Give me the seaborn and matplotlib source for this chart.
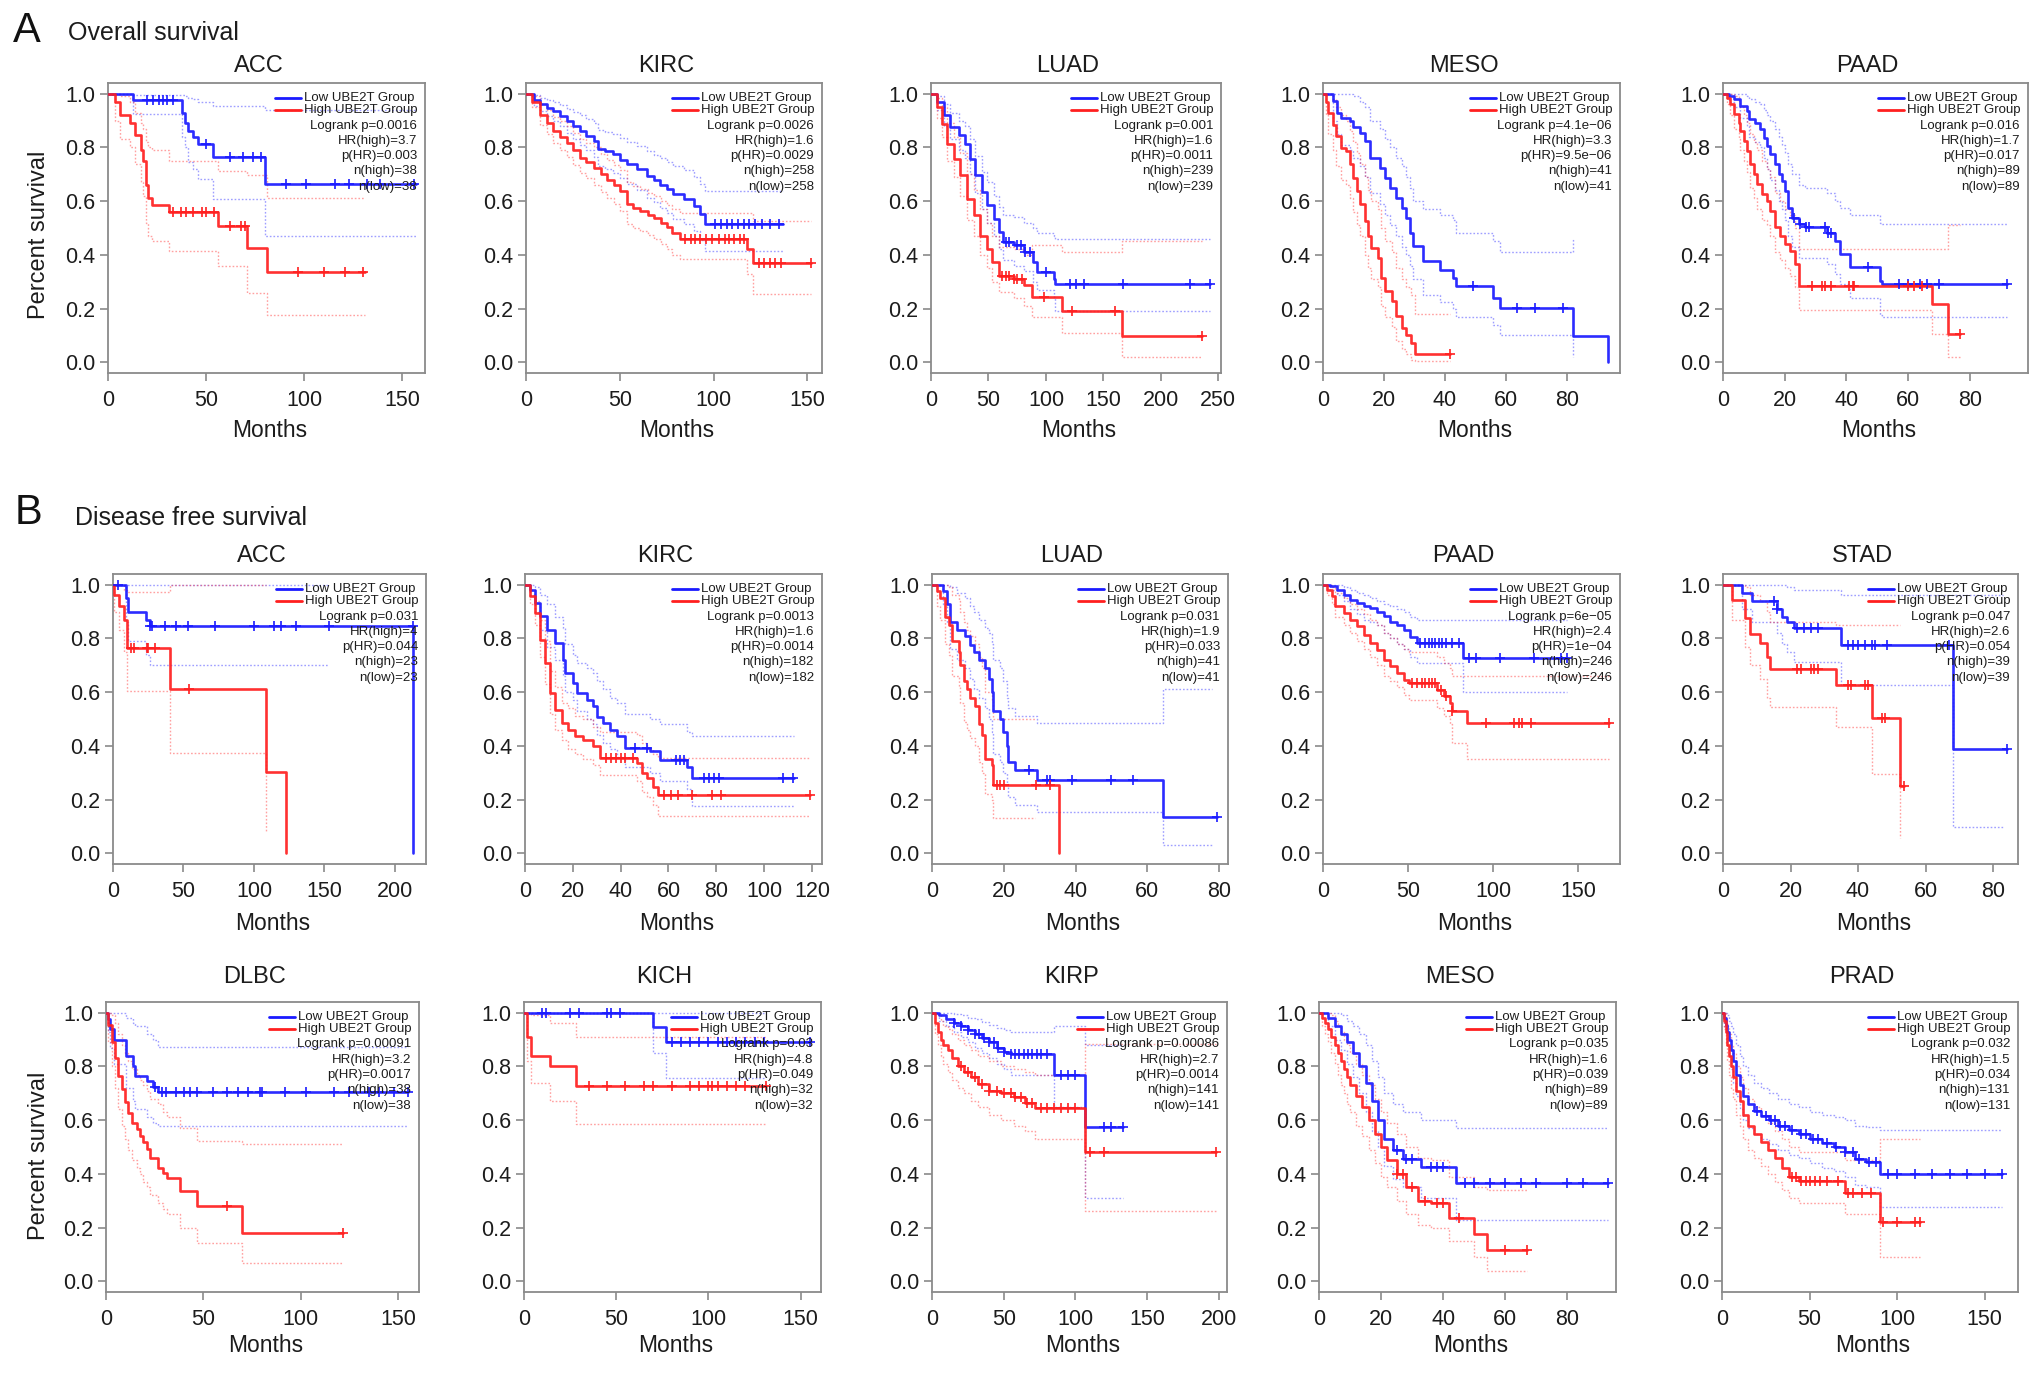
import numpy as np
import pandas as pd
import matplotlib
matplotlib.use("Agg")
import matplotlib.pyplot as plt
import seaborn as sns

M = "\u2212"

# ------------------------------------------------------------------ data
# A: Overall survival
OS_ACC_LOW_T = [0, 12.8, 37.5, 39.5, 41, 43.5, 46, 53.7, 80]
OS_ACC_LOW_S = [1, 0.975, 0.93, 0.89, 0.86, 0.84, 0.814, 0.764, 0.665]
OS_ACC_LOW_HI = [1, 0.995, 0.995, 0.99, 0.985, 0.98, 0.97, 0.956, 0.938]
OS_ACC_LOW_LO = [1, 0.925, 0.84, 0.8, 0.745, 0.72, 0.683, 0.609, 0.472]
OS_ACC_LOW_CENS = [20, 23, 26, 28, 30, 33, 50, 62, 69, 74, 78, 91, 101, 116, 123, 132, 139, 156]
OS_ACC_HIGH_T = [0, 3.4, 6, 11, 13.6, 17, 18, 19.6, 20.5, 22.5, 31, 56, 70.7, 81]
OS_ACC_HIGH_S = [1, 0.97, 0.919, 0.89, 0.845, 0.79, 0.75, 0.66, 0.61, 0.584, 0.559, 0.506, 0.425, 0.338]
OS_ACC_HIGH_HI = [1, 1, 0.99, 0.97, 0.93, 0.89, 0.87, 0.82, 0.8, 0.79, 0.75, 0.714, 0.696, 0.61]
OS_ACC_HIGH_LO = [1, 0.9, 0.83, 0.8, 0.74, 0.67, 0.62, 0.52, 0.47, 0.453, 0.416, 0.36, 0.258, 0.176]
OS_ACC_HIGH_CENS = [33, 37, 40, 43.5, 48, 50, 54, 62, 68, 70, 97, 110, 121, 130]
OS_ACC_END = [157, 131]
OS_ACC_STATS = ["Logrank p=0.0016", "HR(high)=3.7", "p(HR)=0.003", "n(high)=38", "n(low)=38"]

OS_KIRC_LOW_T = [0, 4, 7.5, 11, 14.6, 18, 21.7, 25, 28.8, 32, 36, 38.6, 42, 46.6, 50, 53.7, 59, 64.4, 68, 71.5, 75, 78.6, 84, 89.3, 92.9, 95.5]
OS_KIRC_LOW_S = [1, 0.975, 0.96, 0.948, 0.936, 0.918, 0.898, 0.88, 0.861, 0.843, 0.824, 0.793, 0.785, 0.774, 0.755, 0.737, 0.718, 0.693, 0.678, 0.662, 0.645, 0.626, 0.607, 0.582, 0.551, 0.514]
OS_KIRC_LOW_HI = [1, 0.995, 0.985, 0.977, 0.97, 0.958, 0.945, 0.932, 0.92, 0.905, 0.89, 0.865, 0.858, 0.85, 0.835, 0.82, 0.805, 0.785, 0.772, 0.76, 0.745, 0.73, 0.715, 0.69, 0.665, 0.638]
OS_KIRC_LOW_LO = [1, 0.955, 0.935, 0.918, 0.9, 0.88, 0.855, 0.83, 0.81, 0.79, 0.765, 0.73, 0.72, 0.705, 0.685, 0.665, 0.64, 0.61, 0.595, 0.575, 0.555, 0.535, 0.515, 0.49, 0.455, 0.415]
OS_KIRC_LOW_CENS = [101, 104, 107, 110, 113, 116, 119, 122, 126, 130, 135]
OS_KIRC_HIGH_T = [0, 3, 7.5, 11, 14.6, 18, 21.7, 25, 28.8, 32, 36, 40, 43, 47, 50, 53.7, 57, 61, 65, 68, 72, 75, 78, 82.2, 118, 121]
OS_KIRC_HIGH_S = [1, 0.97, 0.92, 0.89, 0.861, 0.84, 0.818, 0.79, 0.762, 0.745, 0.725, 0.7, 0.68, 0.66, 0.638, 0.589, 0.575, 0.564, 0.55, 0.539, 0.52, 0.502, 0.48, 0.458, 0.42, 0.369]
OS_KIRC_HIGH_HI = [1, 0.99, 0.96, 0.94, 0.915, 0.9, 0.88, 0.855, 0.83, 0.815, 0.8, 0.775, 0.755, 0.735, 0.715, 0.67, 0.655, 0.645, 0.63, 0.62, 0.6, 0.585, 0.57, 0.557, 0.557, 0.527]
OS_KIRC_HIGH_LO = [1, 0.95, 0.885, 0.85, 0.815, 0.79, 0.765, 0.735, 0.705, 0.685, 0.66, 0.635, 0.61, 0.59, 0.565, 0.515, 0.5, 0.49, 0.475, 0.46, 0.44, 0.42, 0.4, 0.384, 0.33, 0.254]
OS_KIRC_HIGH_CENS = [85, 88, 90, 93, 96, 99, 103, 106, 108, 111, 114, 116, 124, 127, 130, 133, 136, 152]
OS_KIRC_END = [137, 152]
OS_KIRC_STATS = ["Logrank p=0.0026", "HR(high)=1.6", "p(HR)=0.0029", "n(high)=258", "n(low)=258"]

OS_LUAD_LOW_T = [0, 5.2, 11, 16.8, 24, 30, 34, 38.5, 44.3, 48.7, 54.5, 58.8, 63, 71.8, 80.5, 89, 92, 106.6, 108]
OS_LUAD_LOW_S = [1, 0.969, 0.919, 0.876, 0.845, 0.814, 0.758, 0.696, 0.634, 0.584, 0.534, 0.484, 0.447, 0.435, 0.41, 0.373, 0.335, 0.311, 0.292]
OS_LUAD_LOW_HI = [1, 0.99, 0.96, 0.93, 0.9, 0.88, 0.83, 0.77, 0.71, 0.67, 0.62, 0.58, 0.55, 0.54, 0.52, 0.5, 0.48, 0.47, 0.46]
OS_LUAD_LOW_LO = [1, 0.94, 0.88, 0.83, 0.79, 0.76, 0.7, 0.63, 0.57, 0.52, 0.47, 0.42, 0.38, 0.36, 0.34, 0.3, 0.27, 0.24, 0.19]
OS_LUAD_LOW_CENS = [65, 68, 75, 78, 82, 86, 100, 121, 126, 132.7, 167, 225, 243]
OS_LUAD_HIGH_T = [0, 5.2, 9.6, 14, 19.7, 25.5, 31.3, 37, 42.9, 48.7, 53, 58.8, 71.8, 80.5, 87.8, 114, 166]
OS_LUAD_HIGH_S = [1, 0.95, 0.888, 0.814, 0.758, 0.696, 0.609, 0.547, 0.472, 0.422, 0.373, 0.323, 0.31, 0.286, 0.242, 0.19, 0.099]
OS_LUAD_HIGH_HI = [1, 0.985, 0.95, 0.89, 0.84, 0.78, 0.7, 0.64, 0.57, 0.52, 0.47, 0.43, 0.42, 0.4, 0.435, 0.41, 0.453]
OS_LUAD_HIGH_LO = [1, 0.91, 0.84, 0.75, 0.69, 0.62, 0.53, 0.47, 0.4, 0.35, 0.3, 0.26, 0.24, 0.21, 0.17, 0.11, 0.02]
OS_LUAD_HIGH_CENS = [62, 65, 68, 72, 75, 79, 98, 123, 160, 236]
OS_LUAD_END = [243, 236]
OS_LUAD_STATS = ["Logrank p=0.001", "HR(high)=1.6", "p(HR)=0.0011", "n(high)=239", "n(low)=239"]

OS_MESO_LOW_T = [0, 3.3, 4.6, 6, 8.8, 9.9, 12, 13.7, 15.3, 18.6, 20.3, 21.9, 24.1, 25.8, 27.4, 28.5, 29.6, 32.9, 38.4, 42.7, 43.8, 55.9, 58, 82.2, 93.7]
OS_MESO_LOW_S = [1, 0.973, 0.93, 0.91, 0.9, 0.878, 0.855, 0.825, 0.76, 0.724, 0.687, 0.65, 0.612, 0.575, 0.538, 0.482, 0.432, 0.376, 0.345, 0.314, 0.283, 0.24, 0.202, 0.097, 0.0]
OS_MESO_LOW_HI = [1, 1, 1, 1, 1, 0.99, 0.97, 0.95, 0.9, 0.87, 0.83, 0.8, 0.76, 0.73, 0.69, 0.65, 0.6, 0.57, 0.55, 0.53, 0.48, 0.45, 0.41, 0.46, 0.46]
OS_MESO_LOW_LO = [1, 0.9, 0.85, 0.81, 0.79, 0.76, 0.73, 0.69, 0.63, 0.59, 0.55, 0.51, 0.47, 0.43, 0.4, 0.36, 0.31, 0.25, 0.225, 0.2, 0.17, 0.14, 0.1, 0.02, 0.02]
OS_MESO_LOW_CENS = [49.3, 63.6, 69.6, 78.9]
OS_MESO_HIGH_T = [0, 0.9, 1.6, 3.3, 4.4, 6, 7.7, 8.8, 9.9, 11, 12, 13.7, 14.8, 15.9, 18, 19.2, 20.3, 22.5, 24.1, 25.8, 27.4, 29, 30.1]
OS_MESO_HIGH_S = [1, 0.97, 0.93, 0.885, 0.842, 0.799, 0.786, 0.737, 0.687, 0.637, 0.588, 0.525, 0.47, 0.426, 0.389, 0.314, 0.265, 0.227, 0.171, 0.128, 0.103, 0.072, 0.029]
OS_MESO_HIGH_HI = [1, 1, 1, 0.98, 0.95, 0.92, 0.9, 0.86, 0.82, 0.78, 0.74, 0.69, 0.64, 0.6, 0.57, 0.5, 0.45, 0.41, 0.35, 0.31, 0.28, 0.25, 0.18]
OS_MESO_HIGH_LO = [1, 0.92, 0.85, 0.79, 0.73, 0.68, 0.66, 0.61, 0.56, 0.51, 0.47, 0.4, 0.35, 0.31, 0.28, 0.21, 0.17, 0.13, 0.08, 0.05, 0.03, 0.01, 0.005]
OS_MESO_HIGH_CENS = [41.6]
OS_MESO_END = [93.7, 41.6]
OS_MESO_STATS = ["Logrank p=4.1e" + M + "06", "HR(high)=3.3", "p(HR)=9.5e" + M + "06", "n(high)=41", "n(low)=41"]

OS_PAAD_LOW_T = [0, 1.8, 3.5, 5.6, 7.8, 8.3, 10.5, 12, 13.2, 14.2, 15.3, 16.9, 18, 19.1, 20.2, 21.2, 22.3, 24.5, 26.6, 33.6, 36.3, 38, 41.2, 50.9, 51.4]
OS_PAAD_LOW_S = [1, 0.991, 0.979, 0.954, 0.935, 0.905, 0.892, 0.867, 0.836, 0.805, 0.774, 0.737, 0.7, 0.675, 0.638, 0.576, 0.539, 0.514, 0.502, 0.483, 0.452, 0.403, 0.353, 0.304, 0.291]
OS_PAAD_LOW_HI = [1, 1, 1, 1, 0.99, 0.98, 0.97, 0.96, 0.94, 0.92, 0.9, 0.87, 0.84, 0.81, 0.78, 0.74, 0.7, 0.66, 0.65, 0.63, 0.6, 0.576, 0.55, 0.52, 0.515]
OS_PAAD_LOW_LO = [1, 0.97, 0.95, 0.91, 0.88, 0.84, 0.82, 0.8, 0.76, 0.72, 0.68, 0.64, 0.6, 0.57, 0.53, 0.47, 0.43, 0.39, 0.39, 0.365, 0.33, 0.29, 0.24, 0.175, 0.167]
OS_PAAD_LOW_CENS = [23, 25, 27, 28, 33, 34, 35, 47.1, 57, 60, 63.8, 66, 70, 92]
OS_PAAD_HIGH_T = [0, 1.3, 2.4, 3.5, 5.1, 5.6, 6.7, 7.8, 8.8, 9.9, 11, 12.6, 14.2, 15.3, 16.9, 18.5, 20.2, 21.8, 23.4, 24.5, 67.8, 73]
OS_PAAD_HIGH_S = [1, 0.985, 0.96, 0.923, 0.892, 0.861, 0.824, 0.787, 0.737, 0.7, 0.663, 0.625, 0.6, 0.564, 0.502, 0.471, 0.44, 0.415, 0.366, 0.285, 0.217, 0.105]
OS_PAAD_HIGH_HI = [1, 1, 1, 0.99, 0.97, 0.95, 0.92, 0.89, 0.85, 0.82, 0.79, 0.75, 0.72, 0.69, 0.63, 0.6, 0.57, 0.55, 0.5, 0.42, 0.42, 0.51]
OS_PAAD_HIGH_LO = [1, 0.96, 0.92, 0.87, 0.83, 0.79, 0.75, 0.71, 0.65, 0.61, 0.57, 0.53, 0.51, 0.47, 0.41, 0.38, 0.35, 0.32, 0.28, 0.195, 0.105, 0.02]
OS_PAAD_HIGH_CENS = [29, 32, 33, 35, 41, 42, 42.5, 60, 62, 64.5, 77]
OS_PAAD_END = [92, 77]
OS_PAAD_STATS = ["Logrank p=0.016", "HR(high)=1.7", "p(HR)=0.017", "n(high)=89", "n(low)=89"]

# B: Disease free survival
DFS_ACC_LOW_T = [0, 9.5, 10.7, 23.7, 26, 213]
DFS_ACC_LOW_S = [1, 0.95, 0.9, 0.87, 0.845, 0.0]
DFS_ACC_LOW_HI = [1, 1, 1, 1, 1, 1]
DFS_ACC_LOW_LO = [1, 0.86, 0.79, 0.74, 0.7, 0.7]
DFS_ACC_LOW_CENS = [3.6, 26.5, 28, 37, 45, 53, 72, 100, 114, 119, 130, 153, 212.5]
DFS_ACC_HIGH_T = [0, 1, 4, 8, 10, 40.5, 108.5, 123]
DFS_ACC_HIGH_S = [1, 0.963, 0.919, 0.87, 0.764, 0.611, 0.304, 0.0]
DFS_ACC_HIGH_HI = [1, 1, 1, 0.98, 0.973, 1, 1, 1]
DFS_ACC_HIGH_LO = [1, 0.9, 0.83, 0.75, 0.605, 0.373, 0.08, 0.08]
DFS_ACC_HIGH_CENS = [13, 15, 24, 25, 30, 54]
DFS_ACC_END = [213, 123]
DFS_ACC_STATS = ["Logrank p=0.031", "HR(high)=4", "p(HR)=0.044", "n(high)=23", "n(low)=23"]

DFS_KIRC_LOW_T = [0, 2.1, 4.2, 6.3, 9.1, 12.6, 16, 16.7, 20.2, 21.6, 25.8, 28.6, 30, 32.8, 35.6, 38.4, 41.9, 52.3, 56.5, 67.7, 69.8]
DFS_KIRC_LOW_S = [1, 0.98, 0.932, 0.882, 0.832, 0.783, 0.72, 0.671, 0.634, 0.596, 0.571, 0.547, 0.509, 0.484, 0.46, 0.435, 0.391, 0.379, 0.348, 0.323, 0.28]
DFS_KIRC_LOW_HI = [1, 1, 0.99, 0.96, 0.93, 0.88, 0.84, 0.78, 0.74, 0.71, 0.69, 0.67, 0.64, 0.61, 0.58, 0.56, 0.52, 0.5, 0.48, 0.45, 0.435]
DFS_KIRC_LOW_LO = [1, 0.96, 0.9, 0.83, 0.77, 0.72, 0.66, 0.6, 0.57, 0.53, 0.5, 0.48, 0.44, 0.41, 0.39, 0.36, 0.32, 0.3, 0.27, 0.24, 0.176]
DFS_KIRC_LOW_CENS = [46, 51, 63, 65, 66.5, 75, 77, 79, 81, 108, 112]
DFS_KIRC_HIGH_T = [0, 2.1, 4.2, 6.3, 8.4, 10.5, 12.6, 15.4, 18.1, 20.9, 24.4, 28.6, 31.4, 46.8, 49, 51, 53.7, 55.8]
DFS_KIRC_HIGH_S = [1, 0.957, 0.894, 0.795, 0.708, 0.596, 0.534, 0.484, 0.46, 0.435, 0.422, 0.398, 0.355, 0.335, 0.3, 0.28, 0.248, 0.217]
DFS_KIRC_HIGH_HI = [1, 0.98, 0.94, 0.87, 0.79, 0.68, 0.62, 0.56, 0.54, 0.51, 0.5, 0.47, 0.45, 0.44, 0.41, 0.39, 0.37, 0.354]
DFS_KIRC_HIGH_LO = [1, 0.93, 0.85, 0.73, 0.63, 0.52, 0.46, 0.42, 0.39, 0.37, 0.35, 0.33, 0.29, 0.27, 0.23, 0.21, 0.18, 0.137]
DFS_KIRC_HIGH_CENS = [34, 36, 38, 40, 42, 45, 58, 61, 64, 70, 78, 82, 119]
DFS_KIRC_END = [112.4, 119.3]
DFS_KIRC_STATS = ["Logrank p=0.0013", "HR(high)=1.6", "p(HR)=0.0014", "n(high)=182", "n(low)=182"]

DFS_LUAD_LOW_T = [0, 3.2, 4.2, 5.1, 7, 9.3, 10.7, 11.6, 13, 14.8, 15.8, 16.7, 17.1, 19, 19.9, 20.9, 21.3, 23.2, 29.2, 64.5]
DFS_LUAD_LOW_S = [1, 0.975, 0.93, 0.86, 0.83, 0.81, 0.776, 0.75, 0.72, 0.689, 0.65, 0.6, 0.53, 0.5, 0.45, 0.4, 0.34, 0.31, 0.273, 0.134]
DFS_LUAD_LOW_HI = [1, 1, 1, 0.99, 0.97, 0.95, 0.92, 0.9, 0.87, 0.84, 0.82, 0.78, 0.72, 0.69, 0.64, 0.58, 0.54, 0.51, 0.484, 0.61]
DFS_LUAD_LOW_LO = [1, 0.93, 0.86, 0.76, 0.72, 0.69, 0.65, 0.61, 0.58, 0.54, 0.5, 0.45, 0.37, 0.34, 0.3, 0.26, 0.21, 0.18, 0.152, 0.03]
DFS_LUAD_LOW_CENS = [27, 32, 33, 39, 50, 56, 79.5]
DFS_LUAD_HIGH_T = [0, 1.4, 2.3, 3.7, 4.6, 5.6, 7.4, 7.9, 8.8, 9.7, 10.7, 12, 13, 13.9, 14.8, 16.7, 17.1, 35.5]
DFS_LUAD_HIGH_S = [1, 0.975, 0.95, 0.88, 0.85, 0.79, 0.75, 0.7, 0.64, 0.61, 0.58, 0.55, 0.48, 0.44, 0.35, 0.33, 0.255, 0.0]
DFS_LUAD_HIGH_HI = [1, 1, 1, 1, 0.99, 0.96, 0.94, 0.9, 0.86, 0.83, 0.81, 0.78, 0.73, 0.69, 0.6, 0.57, 0.5, 0.5]
DFS_LUAD_HIGH_LO = [1, 0.92, 0.87, 0.78, 0.74, 0.66, 0.62, 0.56, 0.49, 0.46, 0.43, 0.4, 0.34, 0.3, 0.22, 0.2, 0.13, 0.13]
DFS_LUAD_HIGH_CENS = [18, 19, 20, 29, 33]
DFS_LUAD_END = [79.5, 35.5]
DFS_LUAD_STATS = ["Logrank p=0.031", "HR(high)=1.9", "p(HR)=0.033", "n(high)=41", "n(low)=41"]

DFS_PAAD_LOW_T = [0, 4.3, 8.2, 12.1, 16, 20, 23.9, 27.8, 31.7, 35.6, 39.5, 43.4, 47.3, 51.2, 55.1, 82.5]
DFS_PAAD_LOW_S = [1, 0.994, 0.981, 0.963, 0.944, 0.932, 0.919, 0.913, 0.9, 0.882, 0.863, 0.851, 0.832, 0.807, 0.783, 0.727]
DFS_PAAD_LOW_HI = [1, 1, 1, 0.99, 0.98, 0.97, 0.96, 0.95, 0.94, 0.93, 0.92, 0.91, 0.9, 0.88, 0.87, 0.87]
DFS_PAAD_LOW_LO = [1, 0.98, 0.96, 0.94, 0.91, 0.89, 0.87, 0.86, 0.85, 0.82, 0.8, 0.78, 0.76, 0.73, 0.708, 0.599]
DFS_PAAD_LOW_CENS = [57, 60, 62, 64, 66, 68, 70, 72, 76, 80, 86, 90, 104, 124, 140, 143]
DFS_PAAD_HIGH_T = [0, 2.3, 5.3, 7.2, 12.1, 16, 20, 23.9, 27.8, 31.7, 35.6, 39.5, 43.4, 47.3, 50.3, 67, 70.8, 74.7, 75.7, 84.5]
DFS_PAAD_HIGH_S = [1, 0.981, 0.957, 0.919, 0.894, 0.87, 0.845, 0.814, 0.783, 0.758, 0.72, 0.696, 0.671, 0.646, 0.634, 0.609, 0.584, 0.559, 0.528, 0.484]
DFS_PAAD_HIGH_HI = [1, 1, 0.99, 0.97, 0.95, 0.93, 0.91, 0.89, 0.87, 0.85, 0.82, 0.8, 0.78, 0.76, 0.75, 0.73, 0.71, 0.69, 0.66, 0.66]
DFS_PAAD_HIGH_LO = [1, 0.96, 0.93, 0.88, 0.85, 0.82, 0.79, 0.76, 0.73, 0.7, 0.66, 0.64, 0.62, 0.59, 0.57, 0.54, 0.51, 0.48, 0.41, 0.35]
DFS_PAAD_HIGH_CENS = [52, 55, 58, 60, 62, 64, 66, 69, 72, 76, 96, 112, 115, 117, 122, 168]
DFS_PAAD_END = [143, 168]
DFS_PAAD_STATS = ["Logrank p=6e" + M + "05", "HR(high)=2.4", "p(HR)=1e" + M + "04", "n(high)=246", "n(low)=246"]

DFS_STAD_LOW_T = [0, 5.6, 8.6, 16, 17.5, 19, 21, 35, 68]
DFS_STAD_LOW_S = [1, 0.97, 0.94, 0.91, 0.88, 0.86, 0.84, 0.777, 0.388]
DFS_STAD_LOW_HI = [1, 1, 1, 1, 1, 0.99, 0.98, 0.96, 0.96]
DFS_STAD_LOW_LO = [1, 0.91, 0.86, 0.82, 0.78, 0.75, 0.713, 0.628, 0.099]
DFS_STAD_LOW_CENS = [15, 16, 22, 24, 26, 28, 37, 38.5, 40, 42, 44, 45, 48.5, 67, 84]
DFS_STAD_HIGH_T = [0, 2.7, 6.6, 7.9, 11, 13, 14, 33.5, 44, 52.5]
DFS_STAD_HIGH_S = [1, 0.942, 0.877, 0.818, 0.783, 0.731, 0.688, 0.626, 0.502, 0.25]
DFS_STAD_HIGH_HI = [1, 1, 0.99, 0.96, 0.94, 0.9, 0.86, 0.85, 0.85, 0.85]
DFS_STAD_HIGH_LO = [1, 0.87, 0.77, 0.7, 0.65, 0.58, 0.545, 0.47, 0.297, 0.055]
DFS_STAD_HIGH_CENS = [22, 23, 26, 27, 28, 37, 38, 42, 43, 47, 48, 53.5]
DFS_STAD_END = [84, 53.5]
DFS_STAD_STATS = ["Logrank p=0.047", "HR(high)=2.6", "p(HR)=0.054", "n(high)=39", "n(low)=39"]

DFS_DLBC_LOW_T = [0, 0.8, 2.2, 4, 10.5, 14, 15, 21, 24, 26.5]
DFS_DLBC_LOW_S = [1, 0.975, 0.94, 0.9, 0.84, 0.8, 0.765, 0.745, 0.725, 0.705]
DFS_DLBC_LOW_HI = [1, 1, 1, 1, 0.98, 0.96, 0.95, 0.92, 0.9, 0.872]
DFS_DLBC_LOW_LO = [1, 0.93, 0.87, 0.81, 0.72, 0.67, 0.64, 0.61, 0.59, 0.579]
DFS_DLBC_LOW_CENS = [25, 29, 31, 36, 40, 43, 47, 55, 62, 68, 73, 79, 80, 92, 103, 117, 125, 135, 140, 148, 155]
DFS_DLBC_HIGH_T = [0, 1.2, 2.9, 4.6, 6.3, 8, 9.8, 11.5, 13.2, 15.7, 17.4, 19.2, 20.9, 22.6, 26.9, 29.4, 31.1, 38, 46.5, 70]
DFS_DLBC_HIGH_S = [1, 0.953, 0.89, 0.83, 0.766, 0.716, 0.666, 0.628, 0.59, 0.567, 0.542, 0.517, 0.492, 0.46, 0.423, 0.404, 0.386, 0.336, 0.28, 0.181]
DFS_DLBC_HIGH_HI = [1, 1, 0.99, 0.96, 0.92, 0.88, 0.85, 0.82, 0.79, 0.77, 0.75, 0.73, 0.71, 0.68, 0.66, 0.63, 0.61, 0.57, 0.523, 0.51]
DFS_DLBC_HIGH_LO = [1, 0.89, 0.8, 0.72, 0.64, 0.58, 0.53, 0.49, 0.45, 0.42, 0.4, 0.37, 0.35, 0.32, 0.29, 0.27, 0.25, 0.2, 0.143, 0.068]
DFS_DLBC_HIGH_CENS = [62, 121.5]
DFS_DLBC_END = [155, 121.5]
DFS_DLBC_STATS = ["Logrank p=0.00091", "HR(high)=3.2", "p(HR)=0.0017", "n(high)=38", "n(low)=38"]

DFS_KICH_LOW_T = [0, 70, 77]
DFS_KICH_LOW_S = [1, 0.947, 0.892]
DFS_KICH_LOW_HI = [1, 1, 1]
DFS_KICH_LOW_LO = [1, 0.85, 0.758]
DFS_KICH_LOW_CENS = [10, 12, 25, 30, 45, 47, 52, 80, 85, 90, 95, 100, 105, 110, 115, 120, 125, 130, 155]
DFS_KICH_HIGH_T = [0, 1.5, 4, 14, 28]
DFS_KICH_HIGH_S = [1, 0.91, 0.84, 0.8, 0.727]
DFS_KICH_HIGH_HI = [1, 1, 0.99, 0.96, 0.91]
DFS_KICH_HIGH_LO = [1, 0.82, 0.74, 0.67, 0.586]
DFS_KICH_HIGH_CENS = [35, 45, 55, 65, 70, 80, 90, 95, 100, 102, 105, 110, 115, 120, 131]
DFS_KICH_END = [155, 131]
DFS_KICH_STATS = ["Logrank p=0.03", "HR(high)=4.8", "p(HR)=0.049", "n(high)=32", "n(low)=32"]

DFS_KIRP_LOW_T = [0, 5, 10, 15, 20, 25, 30, 35, 40, 45, 50, 55, 85, 107]
DFS_KIRP_LOW_S = [1, 0.99, 0.975, 0.96, 0.95, 0.935, 0.92, 0.905, 0.89, 0.87, 0.855, 0.845, 0.77, 0.575]
DFS_KIRP_LOW_HI = [1, 1, 1, 0.995, 0.99, 0.98, 0.975, 0.965, 0.955, 0.945, 0.935, 0.93, 0.95, 0.88]
DFS_KIRP_LOW_LO = [1, 0.97, 0.95, 0.93, 0.91, 0.89, 0.87, 0.85, 0.83, 0.81, 0.79, 0.77, 0.65, 0.31]
DFS_KIRP_LOW_CENS = [15, 20, 25, 30, 33, 36, 40, 43, 46, 50, 55, 58, 61, 64, 67, 70, 73, 76, 80, 90, 95, 100, 120, 125, 133]
DFS_KIRP_HIGH_T = [0, 2, 4, 6, 8, 11, 14, 18, 22, 27, 32, 40, 48, 57, 65, 72, 107]
DFS_KIRP_HIGH_S = [1, 0.96, 0.93, 0.9, 0.88, 0.86, 0.83, 0.8, 0.78, 0.76, 0.735, 0.71, 0.7, 0.685, 0.665, 0.645, 0.48]
DFS_KIRP_HIGH_HI = [1, 1, 0.99, 0.97, 0.95, 0.94, 0.92, 0.9, 0.88, 0.86, 0.84, 0.82, 0.8, 0.79, 0.78, 0.77, 0.885]
DFS_KIRP_HIGH_LO = [1, 0.92, 0.88, 0.84, 0.81, 0.78, 0.75, 0.72, 0.7, 0.67, 0.65, 0.62, 0.6, 0.58, 0.56, 0.53, 0.26]
DFS_KIRP_HIGH_CENS = [20, 25, 30, 35, 40, 45, 50, 55, 58, 62, 66, 70, 76, 80, 85, 90, 95, 100, 110, 120, 198]
DFS_KIRP_END = [133, 198]
DFS_KIRP_STATS = ["Logrank p=0.00086", "HR(high)=2.7", "p(HR)=0.0014", "n(high)=141", "n(low)=141"]

DFS_MESO_LOW_T = [0, 3, 5, 7, 9, 11, 13, 15, 17, 19, 21, 24, 27, 33, 44]
DFS_MESO_LOW_S = [1, 0.98, 0.95, 0.92, 0.89, 0.85, 0.8, 0.74, 0.67, 0.6, 0.53, 0.49, 0.455, 0.425, 0.365]
DFS_MESO_LOW_HI = [1, 1, 1, 0.99, 0.97, 0.95, 0.92, 0.88, 0.82, 0.76, 0.7, 0.66, 0.63, 0.6, 0.571]
DFS_MESO_LOW_LO = [1, 0.95, 0.9, 0.86, 0.81, 0.76, 0.7, 0.63, 0.56, 0.5, 0.43, 0.38, 0.35, 0.31, 0.23]
DFS_MESO_LOW_CENS = [25, 28, 30, 36, 38, 40, 47, 50, 55, 60, 65, 70, 80, 85, 93]
DFS_MESO_HIGH_T = [0, 1, 2, 3, 4, 5, 6, 7, 8, 9, 10, 12, 14, 16, 18, 20, 22, 25, 28, 32, 36, 42, 50, 54]
DFS_MESO_HIGH_S = [1, 0.98, 0.96, 0.94, 0.91, 0.88, 0.85, 0.82, 0.79, 0.76, 0.73, 0.69, 0.65, 0.6, 0.55, 0.5, 0.45, 0.4, 0.35, 0.3, 0.29, 0.235, 0.175, 0.118]
DFS_MESO_HIGH_HI = [1, 1, 1, 1, 0.99, 0.97, 0.95, 0.93, 0.9, 0.88, 0.85, 0.81, 0.77, 0.73, 0.68, 0.63, 0.59, 0.55, 0.5, 0.46, 0.45, 0.39, 0.35, 0.34]
DFS_MESO_HIGH_LO = [1, 0.95, 0.92, 0.89, 0.85, 0.81, 0.77, 0.73, 0.7, 0.66, 0.63, 0.58, 0.54, 0.49, 0.44, 0.39, 0.35, 0.3, 0.25, 0.21, 0.2, 0.15, 0.09, 0.04]
DFS_MESO_HIGH_CENS = [25, 27, 30, 34, 38, 40, 45, 60, 67]
DFS_MESO_END = [93, 67]
DFS_MESO_STATS = ["Logrank p=0.035", "HR(high)=1.6", "p(HR)=0.039", "n(high)=89", "n(low)=89"]

DFS_PRAD_LOW_T = [0, 1, 2, 3, 4, 5, 6, 8, 10, 12, 15, 18, 22, 27, 32, 38, 44, 50, 57, 64, 70, 76, 82, 90]
DFS_PRAD_LOW_S = [1, 0.98, 0.955, 0.93, 0.9, 0.86, 0.82, 0.77, 0.73, 0.69, 0.66, 0.635, 0.615, 0.6, 0.58, 0.565, 0.55, 0.53, 0.515, 0.5, 0.48, 0.455, 0.445, 0.4]
DFS_PRAD_LOW_HI = [1, 1, 1, 0.99, 0.97, 0.95, 0.92, 0.88, 0.84, 0.8, 0.77, 0.74, 0.72, 0.7, 0.68, 0.66, 0.65, 0.63, 0.62, 0.61, 0.6, 0.58, 0.575, 0.565]
DFS_PRAD_LOW_LO = [1, 0.95, 0.92, 0.88, 0.84, 0.79, 0.74, 0.69, 0.64, 0.6, 0.57, 0.55, 0.53, 0.51, 0.49, 0.47, 0.46, 0.44, 0.42, 0.41, 0.39, 0.36, 0.35, 0.275]
DFS_PRAD_LOW_CENS = [20, 25, 28, 30, 33, 36, 40, 45, 48, 52, 55, 60, 65, 70, 75, 78, 84, 88, 95, 100, 110, 120, 130, 140, 150, 160]
DFS_PRAD_HIGH_T = [0, 1, 2, 3, 4, 5, 6, 8, 10, 12, 15, 18, 22, 26, 30, 34, 38, 44, 70, 90]
DFS_PRAD_HIGH_S = [1, 0.97, 0.93, 0.88, 0.84, 0.8, 0.76, 0.71, 0.67, 0.62, 0.58, 0.55, 0.52, 0.49, 0.46, 0.42, 0.39, 0.375, 0.33, 0.22]
DFS_PRAD_HIGH_HI = [1, 1, 0.98, 0.95, 0.92, 0.88, 0.85, 0.8, 0.76, 0.72, 0.68, 0.65, 0.62, 0.59, 0.56, 0.53, 0.5, 0.48, 0.45, 0.53]
DFS_PRAD_HIGH_LO = [1, 0.94, 0.88, 0.82, 0.77, 0.72, 0.68, 0.62, 0.58, 0.53, 0.49, 0.46, 0.43, 0.4, 0.37, 0.34, 0.31, 0.29, 0.25, 0.09]
DFS_PRAD_HIGH_CENS = [40, 42, 45, 48, 50, 53, 56, 60, 66, 72, 75, 80, 85, 92, 100, 110, 113]
DFS_PRAD_END = [160, 113]
DFS_PRAD_STATS = ["Logrank p=0.032", "HR(high)=1.5", "p(HR)=0.034", "n(high)=131", "n(low)=131"]

# confidence lines that stop before the curve does
CI_END = {"OS_MESO_LOW": 82.2, "DFS_ACC_LOW": 153, "DFS_ACC_HIGH": 108.5,
          "DFS_LUAD_LOW": 78, "DFS_LUAD_HIGH": 28.7, "DFS_STAD_LOW": 83,
          "DFS_STAD_HIGH": 52.5, "DFS_KICH_LOW": 130}

ROWS = [["OS_ACC", "OS_KIRC", "OS_LUAD", "OS_MESO", "OS_PAAD"],
        ["DFS_ACC", "DFS_KIRC", "DFS_LUAD", "DFS_PAAD", "DFS_STAD"],
        ["DFS_DLBC", "DFS_KICH", "DFS_KIRP", "DFS_MESO", "DFS_PRAD"]]

# ------------------------------------------------------------------ layout
W, H = 2032, 1374
XMAX = {"OS_ACC": 161.7, "OS_KIRC": 157.8, "OS_LUAD": 252.3, "OS_MESO": 97.5, "OS_PAAD": 98.9,
        "DFS_ACC": 222, "DFS_KIRC": 124.2, "DFS_LUAD": 82.5, "DFS_PAAD": 174.4, "DFS_STAD": 87.4,
        "DFS_DLBC": 160.8, "DFS_KICH": 161, "DFS_KIRP": 205.7, "DFS_MESO": 95.7, "DFS_PRAD": 169}
XSTEP = {"OS_ACC": 50, "OS_KIRC": 50, "OS_LUAD": 50, "OS_MESO": 20, "OS_PAAD": 20,
         "DFS_ACC": 50, "DFS_KIRC": 20, "DFS_LUAD": 20, "DFS_PAAD": 50, "DFS_STAD": 20,
         "DFS_DLBC": 50, "DFS_KICH": 50, "DFS_KIRP": 50, "DFS_MESO": 20, "DFS_PRAD": 50}
ROW_TOP = [83, 574, 1002]
AX_H = 290
COL_LEFT = [[108, 526, 931, 1323, 1723], [113, 525, 932, 1323, 1723], [106, 524, 932, 1319, 1722]]
COL_RIGHT = [[425, 822, 1221, 1620, 2028], [426, 822, 1228, 1620, 2018], [419, 821, 1227, 1616, 2018]]
TITLE_BASE = [72, 562, 983]
MONTHS_BASE = [437, 930, 1352]

BLUE = "#1a1aff"
RED = "#ff1f1f"
TEXT = "#1c1c1c"
FRAME = "#8a8a8a"
LEG_FS = 9.5

sns.set_theme(style="white")
plt.rcParams["font.family"] = ["Liberation Sans", "DejaVu Sans"]
plt.rcParams["axes.unicode_minus"] = True

fig = plt.figure(figsize=(W / 100, H / 100), dpi=100)
fig.patch.set_facecolor("white")


def fx(x):
    return x / W


def fy(y):
    return 1 - y / H


def draw_curve(ax, t, s, hi, lo, cens, end, ci_end, color):
    t = list(t)
    s = list(s)
    n = sum(1 for v in t if v <= ci_end)
    n = min(n, len(hi), len(lo))
    for band in (hi, lo):
        d = pd.DataFrame({"t": t[:n] + [ci_end], "v": list(band[:n]) + [band[n - 1]]})
        sns.lineplot(data=d, x="t", y="v", ax=ax, color=color, alpha=0.42, linewidth=1.0,
                     linestyle=(0, (1.2, 1.4)), drawstyle="steps-post", estimator=None,
                     sort=False, legend=False, zorder=2)
    d = pd.DataFrame({"t": t + [end], "v": s + [s[-1]]})
    sns.lineplot(data=d, x="t", y="v", ax=ax, color=color, alpha=0.92, linewidth=1.9,
                 drawstyle="steps-post", estimator=None, sort=False, legend=False, zorder=3)
    cens = np.asarray(cens, dtype=float)
    idx = np.searchsorted(np.asarray(t, dtype=float), cens, side="right") - 1
    cy = np.asarray(s, dtype=float)[idx]
    ax.plot(cens, cy, linestyle="none", marker="+", markersize=7, markeredgewidth=1.3,
            color=color, alpha=0.92, zorder=4)


for r, keys in enumerate(ROWS):
    for c, key in enumerate(keys):
        left, right = COL_LEFT[r][c], COL_RIGHT[r][c]
        top = ROW_TOP[r]
        w = right - left
        ax = fig.add_axes([fx(left), fy(top + AX_H), w / W, AX_H / H])
        g = globals()
        ends = g[key + "_END"]
        for grp, color, end in (("LOW", BLUE, ends[0]), ("HIGH", RED, ends[1])):
            p = key + "_" + grp
            draw_curve(ax, g[p + "_T"], g[p + "_S"], g[p + "_HI"], g[p + "_LO"],
                       g[p + "_CENS"], end, CI_END.get(p, end), color)

        ax.set_xlim(0, XMAX[key])
        ax.set_ylim(-0.04, 1.04)
        ax.set_xticks(np.arange(0, XMAX[key] + 0.01, XSTEP[key]))
        ax.set_yticks([0, 0.2, 0.4, 0.6, 0.8, 1.0])
        ax.set_yticklabels(["0.0", "0.2", "0.4", "0.6", "0.8", "1.0"])
        ax.set_xlabel("")
        ax.set_ylabel("")
        for sp in ax.spines.values():
            sp.set_visible(True)
            sp.set_color(FRAME)
            sp.set_linewidth(1.3)
        ax.tick_params(axis="both", which="major", direction="out", length=6, width=1.2,
                       color=FRAME, labelsize=15.5, labelcolor=TEXT, bottom=True, left=True)
        ax.tick_params(axis="x", pad=6)
        ax.tick_params(axis="y", pad=3)
        ax.set_facecolor("white")

        # legend block
        lx0 = 1 - 150 / w
        lx1 = 1 - 124 / w
        tx = 1 - 121 / w
        for off, lab, color in ((15, "Low UBE2T Group", BLUE), (27, "High UBE2T Group", RED)):
            yy = 1 - off / AX_H
            ax.plot([lx0, lx1], [yy, yy], transform=ax.transAxes, color=color, lw=2.0,
                    clip_on=False, zorder=5)
            ax.text(tx, yy, lab, transform=ax.transAxes, ha="left", va="center",
                    fontsize=LEG_FS, color=TEXT, zorder=5)
        for i, txt in enumerate(g[key + "_STATS"]):
            yy = 1 - (42.5 + 15.3 * i) / AX_H
            ax.text(1 - 8 / w, yy, txt, transform=ax.transAxes, ha="right", va="center",
                    fontsize=LEG_FS, color=TEXT, zorder=5)

        cx = (left + right) / 2
        title = key.split("_")[1]
        fig.text(fx(cx - 8), fy(TITLE_BASE[r]), title, ha="center", va="baseline",
                 fontsize=17, color=TEXT)
        fig.text(fx(cx + 3), fy(MONTHS_BASE[r]), "Months", ha="center", va="baseline",
                 fontsize=16.5, color=TEXT)

# y-axis labels
for r, yc in ((0, 235), (2, 1156)):
    fig.text(fx(45), fy(yc), "Percent survival", rotation=90, rotation_mode="anchor",
             ha="center", va="baseline", fontsize=17, color=TEXT)

# section headings
fig.text(fx(13), fy(42), "A", ha="left", va="baseline", fontsize=30, color="#111111")
fig.text(fx(68), fy(40), "Overall survival", ha="left", va="baseline", fontsize=18, color=TEXT)
fig.text(fx(15), fy(524), "B", ha="left", va="baseline", fontsize=30, color="#111111")
fig.text(fx(75), fy(525), "Disease free survival", ha="left", va="baseline", fontsize=18, color=TEXT)

fig.savefig("out.png", dpi=100, facecolor="white")
